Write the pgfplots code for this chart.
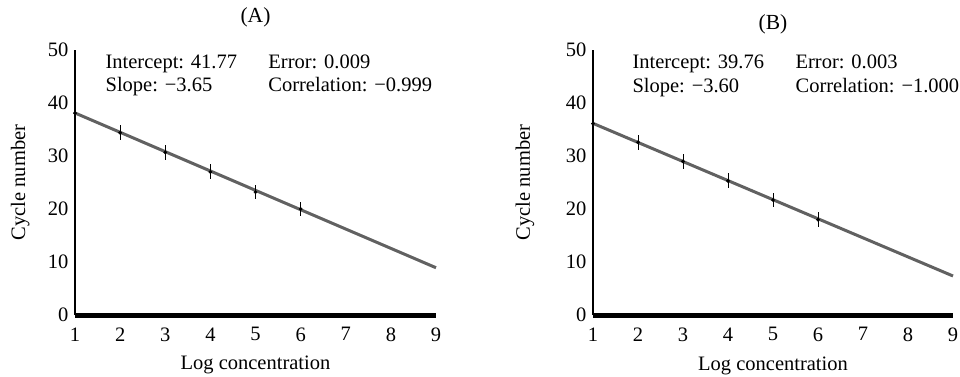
\documentclass[border=0pt]{standalone}
\usepackage{fontspec}
\setmainfont{Liberation Serif}
\usepackage{pgfplots}
\usepackage{pgfplotstable}
\pgfplotsset{compat=1.18}

\pgfplotstableread{
x y e
1 38.1 0
2 34.4 1.4
3 30.7 1.4
4 27.0 1.4
5 23.2 1.4
6 20.0 1.4
}\dataA
\pgfplotstableread{
x y e
1 36.1 0
2 32.6 1.4
3 29.0 1.4
4 25.3 1.4
5 21.7 1.4
6 18.0 1.4
}\dataB

\pgfplotsset{myax/.style={
  scale only axis, height=265pt,
  xmin=1, xmax=9, ymin=0, ymax=50,
  axis x line=bottom, axis y line=left,
  axis line style={-},
  x axis line style={line width=5pt,-},
  y axis line style={line width=1.4pt,-},
  xtick={2,...,8}, ytick={0,10,...,50},
  extra x ticks={1,9}, extra x tick style={tick style={draw=none}},
  ytick style={draw=none},
  xtick style={white, line width=1pt},
  major tick length=6pt, tick align=center,
  clip=false,
  font=\fontsize{20.5}{24}\selectfont,
  /pgf/number format/assume math mode=true,
  xticklabel style={yshift=-6pt},
  title style={anchor=base, font=\fontsize{21.5}{24}\selectfont},
},
fitline/.style={black!62, line width=3pt},
pts/.style={only marks, mark=*, mark size=1.7pt, black,
   error bars/.cd, y dir=both, y explicit, error mark=none,
   error bar style={line width=0.8pt, black}}}

\begin{document}
\begin{tikzpicture}
\useasboundingbox (0,0) rectangle (960pt,376pt);
\begin{axis}[myax, width=361pt, at={(75pt,61pt)}, anchor=south west,
  title={(A)}, title style={at={(axis description cs:0.5,1.08)}},
  xlabel={Log concentration}, ylabel={Cycle number},
  xlabel style={at={(axis description cs:0.5,-0.188)}, anchor=center},
  ylabel style={at={(axis description cs:-0.152,0.5)}, anchor=center}]
\addplot[fitline] coordinates {(1,38.12) (9,8.92)};
\addplot[pts] table[x=x, y=y, y error=e] {\dataA};
\node[anchor=base west] at (axis description cs:0.075,0.932) {Intercept: 41.77};
\node[anchor=base west] at (axis description cs:0.075,0.842) {Slope: −3.65};
\node[anchor=base west] at (axis description cs:0.526,0.932) {Error: 0.009};
\node[anchor=base west] at (axis description cs:0.526,0.842) {Correlation: −0.999};
\end{axis}
\begin{axis}[myax, width=360pt, at={(593pt,61pt)}, anchor=south west,
  title={(B)}, title style={at={(axis description cs:0.5,1.055)}},
  xlabel={Log concentration}, ylabel={Cycle number},
  xlabel style={at={(axis description cs:0.5,-0.193)}, anchor=center},
  ylabel style={at={(axis description cs:-0.189,0.5)}, anchor=center}]
\addplot[fitline] coordinates {(1,36.16) (9,7.36)};
\addplot[pts] table[x=x, y=y, y error=e] {\dataB};
\node[anchor=base west] at (axis description cs:0.1,0.932) {Intercept: 39.76};
\node[anchor=base west] at (axis description cs:0.1,0.838) {Slope: −3.60};
\node[anchor=base west] at (axis description cs:0.553,0.932) {Error: 0.003};
\node[anchor=base west] at (axis description cs:0.553,0.838) {Correlation: −1.000};
\end{axis}
\end{tikzpicture}
\end{document}
